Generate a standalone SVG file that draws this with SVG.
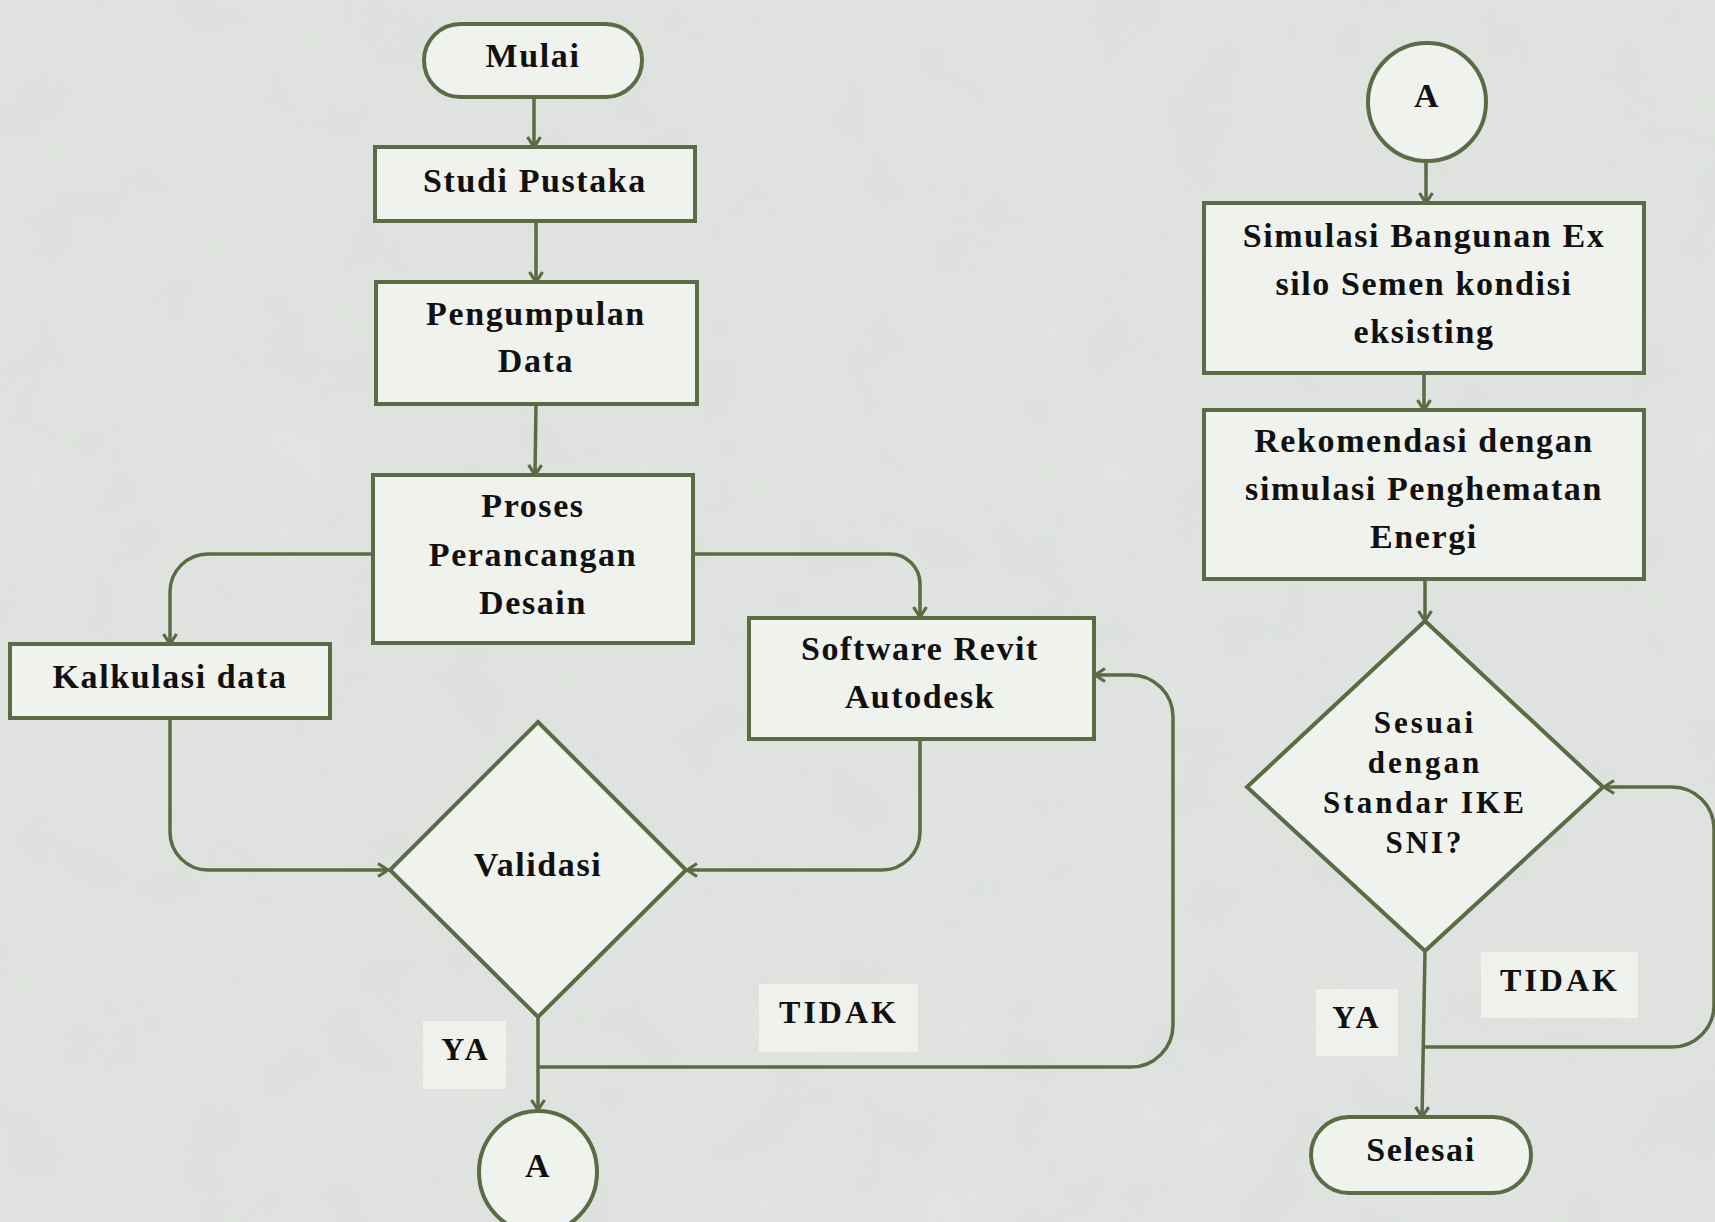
<svg xmlns="http://www.w3.org/2000/svg" width="1715" height="1222" viewBox="0 0 1715 1222">
<defs>
<style>
.node{fill:#f0f2ed;stroke:#5c6a46;stroke-width:4}
.lbl{fill:#eff1ec;stroke:none}
.con{fill:none;stroke:#5c6a46;stroke-width:3.5}
.t{font-family:"Liberation Serif","Times New Roman",serif;font-weight:bold;font-size:34px;letter-spacing:1.6px;fill:#111;text-anchor:middle}
.s{font-size:31px;letter-spacing:3px}
.l{font-size:32px;letter-spacing:3px}
</style>
<marker id="arr" viewBox="0 0 16 16" refX="13" refY="8" markerWidth="16" markerHeight="16" orient="auto" markerUnits="userSpaceOnUse">
<path d="M3,1.5 L13,8 L3,14.5" fill="none" stroke="#5c6a46" stroke-width="3.2"/>
</marker>
<filter id="noise" x="0" y="0" width="100%" height="100%">
<feTurbulence type="fractalNoise" baseFrequency="0.012" numOctaves="4" seed="3"/>
<feColorMatrix type="matrix" values="0 0 0 0 0.55  0 0 0 0 0.57  0 0 0 0 0.55  0 0 0 0.35 -0.05"/>
</filter>
</defs>
<rect width="1715" height="1222" fill="#e1e4e0"/>
<rect width="1715" height="1222" filter="url(#noise)" opacity="0.5"/>

<g id="connectors">
<path class="con" d="M534,97 L534,147" marker-end="url(#arr)"/>
<path class="con" d="M536,221 L536,282" marker-end="url(#arr)"/>
<path class="con" d="M536,404 L535,475" marker-end="url(#arr)"/>
<path class="con" d="M372,554 L208,554 A38,38 0 0 0 170,592 L170,644" marker-end="url(#arr)"/>
<path class="con" d="M170,718 L170,832 A38,38 0 0 0 208,870 L388,870" marker-end="url(#arr)"/>
<path class="con" d="M693,554 L890,554 A30,30 0 0 1 920,584 L920,617" marker-end="url(#arr)"/>
<path class="con" d="M920,739 L920,832 A38,38 0 0 1 882,870 L687,870" marker-end="url(#arr)"/>
<path class="con" d="M538,1017 L538,1110" marker-end="url(#arr)"/>
<path class="con" d="M538,1067 L1131,1067 A42,42 0 0 0 1173,1025 L1173,717 A42,42 0 0 0 1131,675 L1095,675" marker-end="url(#arr)"/>
<path class="con" d="M1426,161 L1426,203" marker-end="url(#arr)"/>
<path class="con" d="M1424,373 L1424,410" marker-end="url(#arr)"/>
<path class="con" d="M1425,579 L1425,621" marker-end="url(#arr)"/>
<path class="con" d="M1425,951 L1422,1117" marker-end="url(#arr)"/>
<path class="con" d="M1424,1047 L1672,1047 A42,42 0 0 0 1714,1005 L1714,829 A42,42 0 0 0 1672,787 L1604,787" marker-end="url(#arr)"/>
</g>

<g id="mulai"><rect class="node" x="424" y="24" width="218" height="73" rx="36.5"/><text class="t" x="533" y="67">Mulai</text></g>
<g id="studi"><rect class="node" x="375" y="147" width="320" height="74"/><text class="t" x="535" y="192">Studi Pustaka</text></g>
<g id="pengumpulan"><rect class="node" x="376" y="282" width="321" height="122"/><text class="t" x="536" y="325">Pengumpulan</text><text class="t" x="536" y="372">Data</text></g>
<g id="proses"><rect class="node" x="373" y="475" width="320" height="168"/><text class="t" x="533" y="517">Proses</text><text class="t" x="533" y="566">Perancangan</text><text class="t" x="533" y="614">Desain</text></g>
<g id="kalkulasi"><rect class="node" x="10" y="644" width="320" height="74"/><text class="t" x="170" y="688">Kalkulasi data</text></g>
<g id="software"><rect class="node" x="749" y="618" width="345" height="121"/><text class="t" x="920" y="660">Software Revit</text><text class="t" x="920" y="708">Autodesk</text></g>
<g id="validasi"><polygon class="node" points="538,722 686,870 538,1017 390,870"/><text class="t" x="538" y="876">Validasi</text></g>
<g id="ya1"><rect class="lbl" x="423" y="1021" width="83" height="68"/><text class="t l" x="466" y="1060">YA</text></g>
<g id="tidak1"><rect class="lbl" x="759" y="984" width="159" height="68"/><text class="t l" x="839" y="1023">TIDAK</text></g>
<g id="a1"><ellipse class="node" cx="538" cy="1172" rx="59" ry="61"/><text class="t" x="538" y="1177">A</text></g>

<g id="a2"><circle class="node" cx="1427" cy="102" r="59"/><text class="t" x="1427" y="107">A</text></g>
<g id="simulasi"><rect class="node" x="1204" y="203" width="440" height="170"/><text class="t" x="1424" y="247">Simulasi Bangunan Ex</text><text class="t" x="1424" y="295">silo Semen kondisi</text><text class="t" x="1424" y="343">eksisting</text></g>
<g id="rekomendasi"><rect class="node" x="1204" y="410" width="440" height="169"/><text class="t" x="1424" y="452">Rekomendasi dengan</text><text class="t" x="1424" y="500">simulasi Penghematan</text><text class="t" x="1424" y="548">Energi</text></g>
<g id="sesuai"><polygon class="node" points="1425,621 1603,787 1425,951 1247,787"/><text class="t s" x="1425" y="733">Sesuai</text><text class="t s" x="1425" y="773">dengan</text><text class="t s" x="1425" y="813">Standar IKE</text><text class="t s" x="1425" y="853">SNI?</text></g>
<g id="tidak2"><rect class="lbl" x="1481" y="952" width="157" height="66"/><text class="t l" x="1560" y="991">TIDAK</text></g>
<g id="ya2"><rect class="lbl" x="1316" y="989" width="82" height="67"/><text class="t l" x="1357" y="1028">YA</text></g>
<g id="selesai"><rect class="node" x="1311" y="1117" width="220" height="76" rx="38"/><text class="t" x="1421" y="1161">Selesai</text></g>
</svg>
